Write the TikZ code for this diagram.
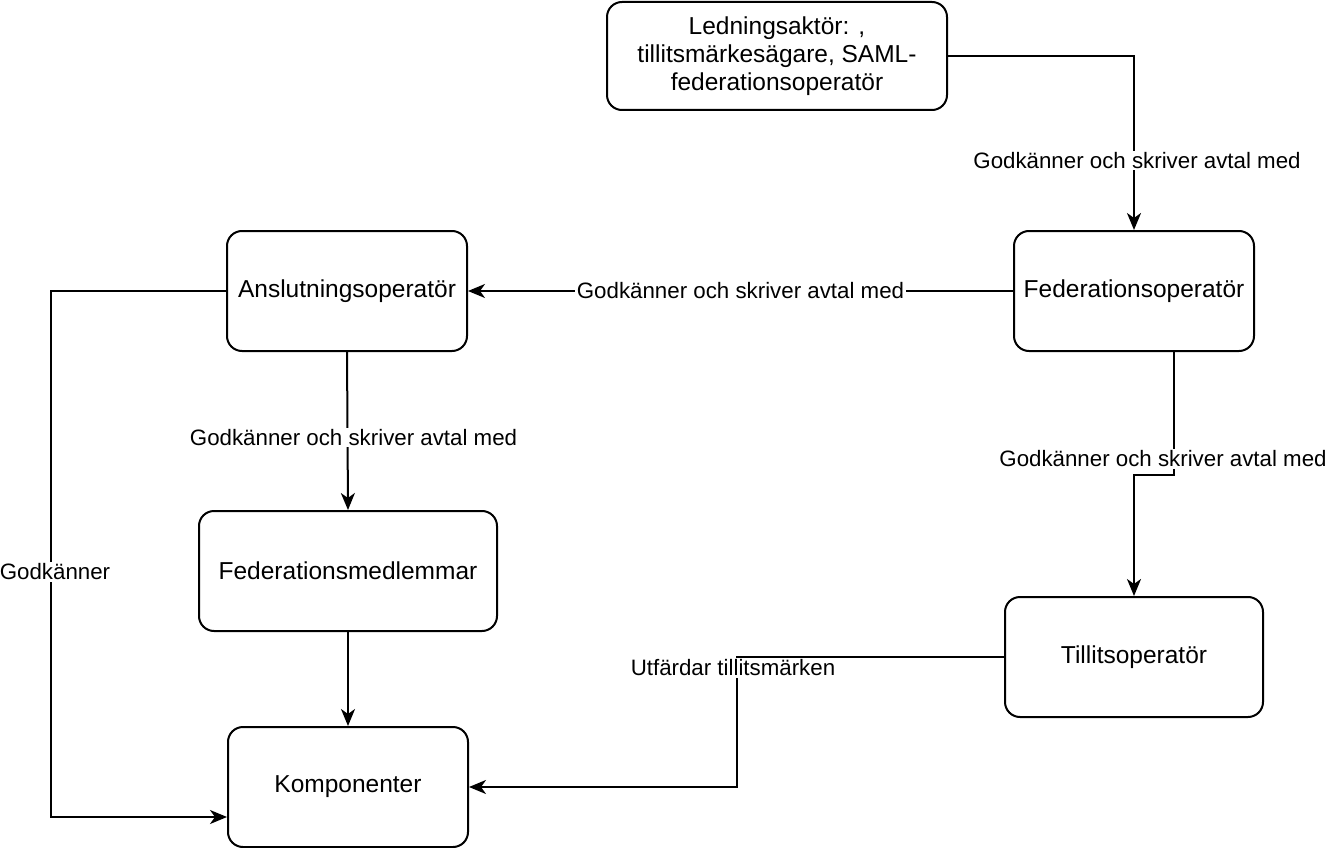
\documentclass[tikz,border=0pt]{standalone}
\usepackage{fontspec}
\setmainfont{Liberation Sans}
\usetikzlibrary{arrows.meta,calc}
\begin{document}
\begin{tikzpicture}[x=1pt,y=-1pt,
  box/.style={draw=black, line width=2pt, rounded corners=15pt, fill=white, inner sep=0pt,
    align=center, font=\fontsize{24.5}{28}\selectfont},
  arr/.style={draw=black, line width=2pt, -{Stealth[length=17pt,width=14pt,inset=5pt]}},
  lbl/.style={fill=white, inner sep=1.5pt, font=\fontsize{22.3}{26}\selectfont}]
\useasboundingbox (0,0) rectangle (1326,848);
\node[box, minimum width=340pt, minimum height=108pt] (L) at (777,56)
  {Ledningsaktör: ,\\tillitsmärkesägare, SAML-\\federationsoperatör};
\node[box, minimum width=240pt, minimum height=120pt] (F) at (1134,291) {Federationsoperatör};
\node[box, minimum width=240pt, minimum height=120pt] (A) at (347,291) {Anslutningsoperatör};
\node[box, minimum width=298pt, minimum height=120pt] (M) at (348,571) {Federationsmedlemmar};
\node[box, minimum width=258pt, minimum height=120pt] (T) at (1134,657) {Tillitsoperatör};
\node[box, minimum width=240pt, minimum height=120pt] (K) at (348,787) {Komponenter};

\draw[arr] (L.east) -| node[lbl, pos=0.8, xshift=3pt] {Godkänner och skriver avtal med} (F.north);
\draw[arr] (F.west) -- node[lbl] {Godkänner och skriver avtal med} (A.east);
\draw[arr] (A.south) -- node[lbl, pos=0.54, xshift=6pt] {Godkänner och skriver avtal med} (M.north);
\draw[arr] ([xshift=40pt]F.south) -- ++(0,123)
  node[lbl, pos=0.87, xshift=-11pt] {Godkänner och skriver avtal med} -| (T.north);
\draw[arr] (T.west) -| (737,720) |- (K.east);
\node[lbl] (UL) at (733,668) {Utfärdar tillitsmärken};
\draw[arr] (M.south) -- (K.north);
\draw[arr] (A.west) -- (51,291) -- node[lbl, pos=0.534, xshift=4pt] {Godkänner} (51,817)
  -- ([yshift=-30pt]K.west);
\end{tikzpicture}
\end{document}
